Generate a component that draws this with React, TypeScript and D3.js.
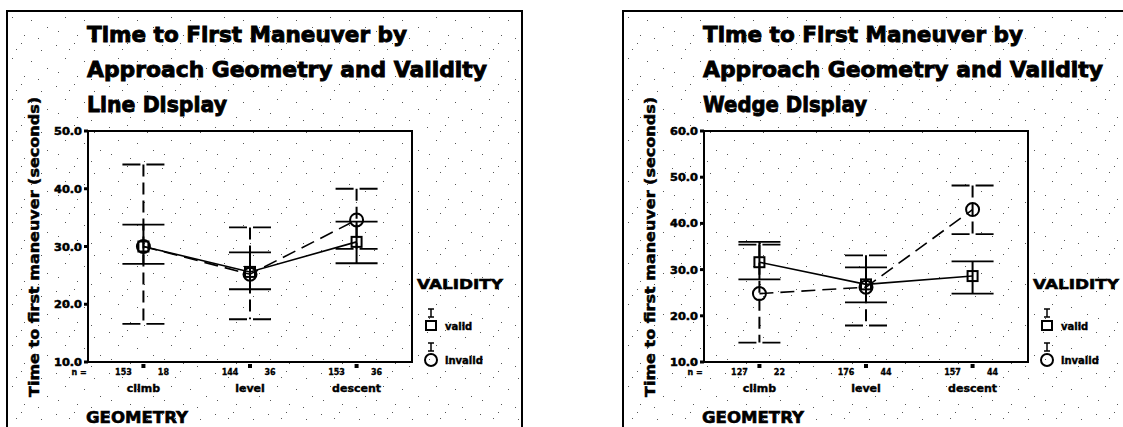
import { useEffect, useRef } from "react"
import * as d3 from "d3"

const categories = ["climb", "level", "descent"]

// Line display panel
const lineValidMean = [30.0, 25.6, 30.8]
const lineValidLow = [27.0, 22.6, 27.1]
const lineValidHigh = [33.8, 29.0, 34.3]
const lineInvalidMean = [30.0, 25.2, 34.6]
const lineInvalidLow = [16.6, 17.4, 29.6]
const lineInvalidHigh = [44.2, 33.3, 40.0]
const lineValidN = [153, 144, 153]
const lineInvalidN = [18, 36, 36]
const lineTicks = [10, 20, 30, 40, 50]

// Wedge display panel
const wedgeValidMean = [31.6, 26.8, 28.6]
const wedgeValidLow = [27.9, 22.9, 24.8]
const wedgeValidHigh = [36.0, 30.5, 31.8]
const wedgeInvalidMean = [24.8, 26.2, 43.0]
const wedgeInvalidLow = [14.2, 17.9, 37.7]
const wedgeInvalidHigh = [35.4, 33.1, 48.2]
const wedgeValidN = [127, 176, 157]
const wedgeInvalidN = [22, 44, 44]
const wedgeTicks = [10, 20, 30, 40, 50, 60]

const titleLines = ["Time to First Maneuver by", "Approach Geometry and Validity"]

interface Series {
  mean: number[]
  low: number[]
  high: number[]
}

interface PanelConfig {
  offset: number
  frameWidth: number
  subtitle: string
  subtitleWidth: number
  ticks: number[]
  valid: Series
  invalid: Series
  validN: number[]
  invalidN: number[]
}

const panels: PanelConfig[] = [
  {
    offset: 0,
    frameWidth: 515,
    subtitle: "Line Display",
    subtitleWidth: 140,
    ticks: lineTicks,
    valid: { mean: lineValidMean, low: lineValidLow, high: lineValidHigh },
    invalid: { mean: lineInvalidMean, low: lineInvalidLow, high: lineInvalidHigh },
    validN: lineValidN,
    invalidN: lineInvalidN,
  },
  {
    offset: 616,
    frameWidth: 560,
    subtitle: "Wedge Display",
    subtitleWidth: 164,
    ticks: wedgeTicks,
    valid: { mean: wedgeValidMean, low: wedgeValidLow, high: wedgeValidHigh },
    invalid: { mean: wedgeInvalidMean, low: wedgeInvalidLow, high: wedgeInvalidHigh },
    validN: wedgeValidN,
    invalidN: wedgeInvalidN,
  },
]

const FONT = "'DejaVu Sans', 'Liberation Sans', Arial, sans-serif"

export default function App() {
  const svgRef = useRef<SVGSVGElement>(null)

  useEffect(() => {
    if (!svgRef.current) return
    const root = d3.select(svgRef.current)
    root.selectAll("*").remove()

    // stipple background pattern (scanned paper look)
    const defs = root.append("defs")
    const pat = defs
      .append("pattern")
      .attr("id", "stipple")
      .attr("patternUnits", "userSpaceOnUse")
      .attr("width", 53)
      .attr("height", 41)
    pat.append("rect").attr("width", 53).attr("height", 41).attr("fill", "#fff")
    const dots = [
      [3, 4], [21, 2], [41, 9], [12, 17], [31, 20], [47, 27], [5, 31], [24, 35], [38, 38], [16, 8],
    ]
    dots.forEach(([dx, dy]) =>
      pat.append("rect").attr("x", dx).attr("y", dy).attr("width", 1).attr("height", 1).attr("fill", "#555")
    )

    root.append("rect").attr("width", 1123).attr("height", 427).attr("fill", "#fff")

    panels.forEach((p) => {
      const g = root.append("g").attr("transform", `translate(${p.offset},0)`)

      const addText = (
        tx: number,
        ty: number,
        str: string,
        size: number,
        anchor = "start",
        heavy = 0.4
      ) =>
        g
          .append("text")
          .attr("x", tx)
          .attr("y", ty)
          .attr("text-anchor", anchor)
          .style("font-family", FONT)
          .style("font-weight", "bold")
          .style("font-size", `${size}px`)
          .style("fill", "#000")
          .style("stroke", "#000")
          .style("stroke-width", heavy)
          .text(str)

      // frame
      g.append("rect")
        .attr("x", 7)
        .attr("y", 11)
        .attr("width", p.frameWidth)
        .attr("height", 440)
        .attr("fill", "url(#stipple)")
        .attr("stroke", "#000")
        .attr("stroke-width", 2)

      // titles
      const titles = [...titleLines, p.subtitle]
      const widths = [320, 400, p.subtitleWidth]
      titles.forEach((t, i) => {
        addText(87, 42 + i * 35, t, 22, "start", 0.9)
          .attr("textLength", widths[i])
          .attr("lengthAdjust", "spacingAndGlyphs")
      })

      const left = 88
      const right = 412
      const top = 131
      const bottom = 362

      const x = d3.scalePoint<string>().domain(categories).range([left, right]).padding(0.52)
      const yMax = d3.max(p.ticks) as number
      const y = d3.scaleLinear().domain([10, yMax]).range([bottom, top])

      // plot box
      g.append("rect")
        .attr("x", left)
        .attr("y", top)
        .attr("width", right - left)
        .attr("height", bottom - top)
        .attr("fill", "none")
        .attr("stroke", "#000")
        .attr("stroke-width", 2)

      // y ticks
      p.ticks.forEach((t) => {
        g.append("line")
          .attr("x1", left - 4)
          .attr("x2", left)
          .attr("y1", y(t))
          .attr("y2", y(t))
          .attr("stroke", "#000")
          .attr("stroke-width", 3)
        addText(left - 6, y(t) + 4, d3.format(".1f")(t), 10, "end", 0.5)
          .attr("textLength", 28)
          .attr("lengthAdjust", "spacingAndGlyphs")
      })

      // y label
      g.append("text")
        .attr("transform", `translate(39,247) rotate(-90)`)
        .attr("text-anchor", "middle")
        .attr("textLength", 300)
        .attr("lengthAdjust", "spacingAndGlyphs")
        .style("font-family", FONT)
        .style("font-weight", "bold")
        .style("font-size", "14px")
        .style("stroke", "#000")
        .style("stroke-width", 0.5)
        .text("Time to first maneuver (seconds)")

      // category ticks, n labels, names
      addText(79, 375, "n =", 8, "middle", 0.3)
      categories.forEach((c, i) => {
        const cx = x(c) as number
        g.append("rect")
          .attr("x", cx - 2)
          .attr("y", bottom + 2)
          .attr("width", 4)
          .attr("height", 4)
          .attr("fill", "#000")
        addText(cx - 20, 375, String(p.validN[i]), 8, "middle", 0.3)
        addText(cx + 20, 375, String(p.invalidN[i]), 8, "middle", 0.3)
        addText(cx, 392, c, 11, "middle", 0.4)
      })

      addText(86, 423, "GEOMETRY", 16, "start", 0.6)
        .attr("textLength", 102)
        .attr("lengthAdjust", "spacingAndGlyphs")

      // connecting lines
      const line = d3
        .line<number>()
        .x((_, i) => x(categories[i]) as number)
        .y((d) => y(d))

      g.append("path")
        .datum(p.invalid.mean)
        .attr("fill", "none")
        .attr("stroke", "#000")
        .attr("stroke-width", 1.6)
        .attr("stroke-dasharray", "14,7")
        .attr("d", line)
      g.append("path")
        .datum(p.valid.mean)
        .attr("fill", "none")
        .attr("stroke", "#000")
        .attr("stroke-width", 1.6)
        .attr("d", line)

      // error bars
      const drawBars = (s: Series, dashed: boolean) => {
        categories.forEach((c, i) => {
          const cx = x(c) as number
          const vl = g
            .append("line")
            .attr("x1", cx)
            .attr("x2", cx)
            .attr("y1", y(s.high[i]))
            .attr("y2", y(s.low[i]))
            .attr("stroke", "#000")
            .attr("stroke-width", 2)
          if (dashed) vl.attr("stroke-dasharray", "12,6")
          ;[s.high[i], s.low[i]].forEach((v) => {
            const cap = g
              .append("line")
              .attr("x1", cx - 21)
              .attr("x2", cx + 21)
              .attr("y1", y(v))
              .attr("y2", y(v))
              .attr("stroke", "#000")
              .attr("stroke-width", 1.8)
            if (dashed) cap.attr("stroke-dasharray", "18,6")
          })
        })
      }
      drawBars(p.invalid, true)
      drawBars(p.valid, false)

      // markers
      categories.forEach((c, i) => {
        const cx = x(c) as number
        g.append("circle")
          .attr("cx", cx)
          .attr("cy", y(p.invalid.mean[i]))
          .attr("r", 6.5)
          .attr("fill", "none")
          .attr("stroke", "#000")
          .attr("stroke-width", 2)
        g.append("rect")
          .attr("x", cx - 5)
          .attr("y", y(p.valid.mean[i]) - 5)
          .attr("width", 10)
          .attr("height", 10)
          .attr("fill", "none")
          .attr("stroke", "#000")
          .attr("stroke-width", 2)
      })

      // legend
      addText(417, 289, "VALIDITY", 14, "start", 0.6)
        .attr("textLength", 86)
        .attr("lengthAdjust", "spacingAndGlyphs")

      const legendRows = [
        { label: "valid", cy: 326, shape: "square" },
        { label: "invalid", cy: 360, shape: "circle" },
      ]
      legendRows.forEach((r) => {
        const lx = 431
        const barTop = r.cy - 17
        const barBottom = r.cy - 9
        g.append("line").attr("x1", lx).attr("x2", lx).attr("y1", barTop).attr("y2", barBottom).attr("stroke", "#000").attr("stroke-width", 1.5)
        g.append("line").attr("x1", lx - 3).attr("x2", lx + 3).attr("y1", barTop).attr("y2", barTop).attr("stroke", "#000").attr("stroke-width", 1.5)
        g.append("line").attr("x1", lx - 3).attr("x2", lx + 3).attr("y1", barBottom).attr("y2", barBottom).attr("stroke", "#000").attr("stroke-width", 1.5)
        if (r.shape === "square") {
          g.append("rect")
            .attr("x", lx - 5)
            .attr("y", r.cy - 5)
            .attr("width", 10)
            .attr("height", 9)
            .attr("fill", "none")
            .attr("stroke", "#000")
            .attr("stroke-width", 2)
        } else {
          g.append("circle")
            .attr("cx", lx)
            .attr("cy", r.cy)
            .attr("r", 6)
            .attr("fill", "none")
            .attr("stroke", "#000")
            .attr("stroke-width", 2)
        }
        addText(445, r.cy + 4, r.label, 10, "start", 0.4)
      })
    })
  }, [])

  return (
    <svg
      ref={svgRef}
      width={1123}
      height={427}
      style={{ position: "absolute", left: 0, top: 0, display: "block" }}
    ></svg>
  )
}
